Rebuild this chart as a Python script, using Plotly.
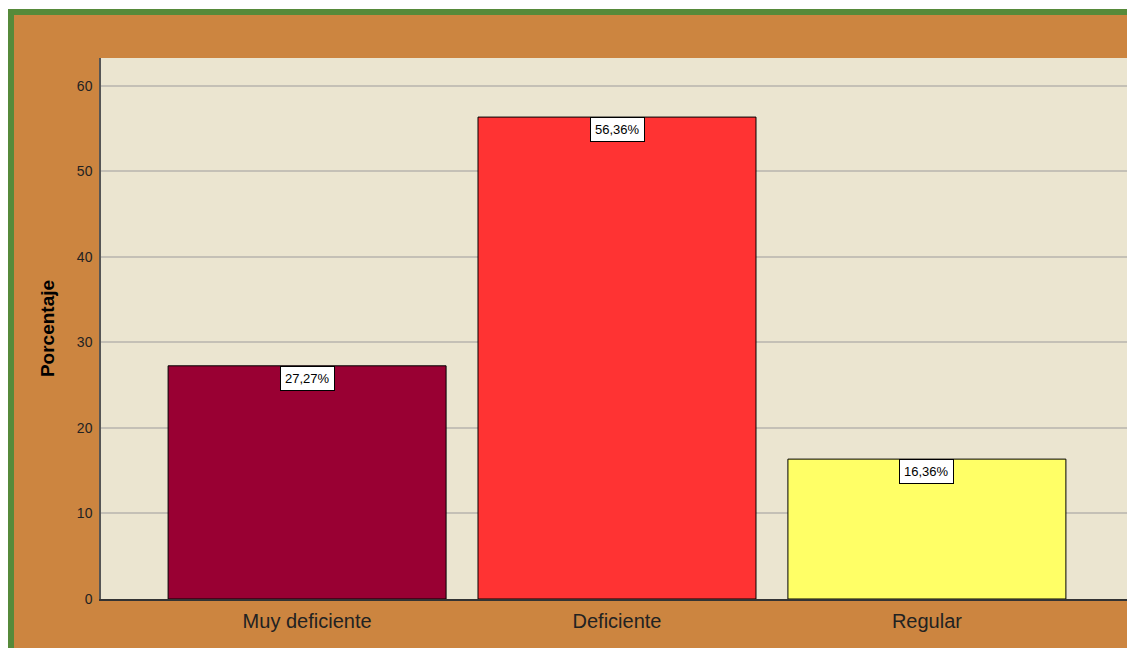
import plotly.graph_objects as go

categories = ["Muy deficiente", "Deficiente", "Regular"]
percentages = [27.27, 56.36, 16.36]
bar_colors = ["#990033", "#FF3333", "#FFFF66"]
labels = ["27,27%", "56,36%", "16,36%"]

# the page puts the figure 8px in from the top-left corner
W, H = 1127, 640
L, R, T, B = 93, 2, 50, 49
pw, ph = W - L - R, H - T - B


def px(x):
    return (x - L) / pw


def py(y):
    return (H - B - y) / ph


FONT = "Arial, Liberation Sans, sans-serif"
ORANGE = "#CC8540"
GREEN = "#568A3A"

fig = go.Figure()
fig.add_bar(x=categories, y=percentages, width=0.897,
            marker=dict(color=bar_colors, line=dict(color="#000000", width=1)),
            hoverinfo="skip")

for c, v, t in zip(categories, percentages, labels):
    fig.add_annotation(x=c, y=v, text=t, showarrow=False, yanchor="top",
                       bgcolor="white", bordercolor="#000000", borderwidth=1,
                       borderpad=4, font=dict(family=FONT, size=13, color="#000"))

# page frame: thin white strip, green border on top and left
fig.add_shape(type="rect", xref="paper", yref="paper", x0=px(-5), x1=px(W + 5),
              y0=py(1), y1=py(-5), fillcolor="white", line_width=0)
fig.add_shape(type="line", xref="paper", yref="paper", x0=px(0), x1=px(W + 5),
              y0=py(4), y1=py(4), line=dict(color=GREEN, width=6))
fig.add_shape(type="line", xref="paper", yref="paper", x0=px(3), x1=px(3),
              y0=py(1), y1=py(H + 5), line=dict(color=GREEN, width=6))

fig.update_layout(
    width=W, height=H,
    margin=dict(l=L, r=R, t=T, b=B),
    paper_bgcolor=ORANGE, plot_bgcolor="#EBE5D0",
    showlegend=False,
    font=dict(family=FONT, color="#000"),
)
fig.update_xaxes(range=[-0.665, 2.665], showgrid=False,
                 showline=True, linecolor="#333333", linewidth=1.5,
                 tickfont=dict(size=20, color="#222"), ticks="", ticklabelstandoff=3)
fig.update_yaxes(range=[0, 63.27], dtick=10, showgrid=True, gridcolor="#C4C0B6",
                 gridwidth=1.5, zeroline=False,
                 showline=True, linecolor="#555555", linewidth=1.5,
                 tickfont=dict(size=14, color="#222"), ticks="", ticklabelstandoff=4,
                 title=dict(text="<b>Porcentaje</b>", font=dict(size=19, color="#000"),
                            standoff=17))

fig.write_html("out.html")
